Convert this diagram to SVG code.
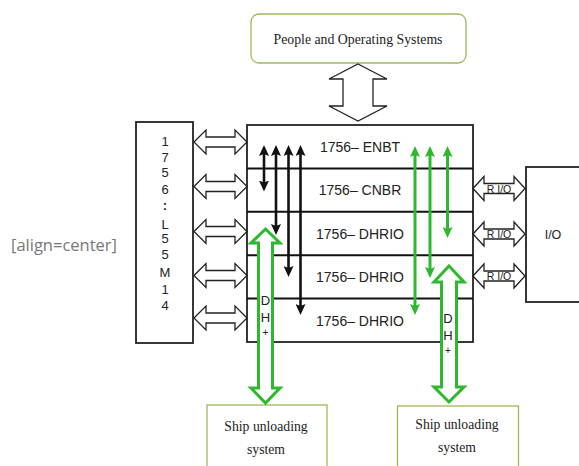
<svg xmlns="http://www.w3.org/2000/svg" width="579" height="466" viewBox="0 0 579 466">
<style>
.serif{font-family:"Liberation Serif","Times New Roman",serif;fill:#222;}
.sans{font-family:"Liberation Sans",Arial,sans-serif;fill:#222;}
.box{fill:#fff;stroke:#222;stroke-width:1.8;}
.gbox{fill:#fff;stroke:#9bbb59;stroke-width:1.3;}
.hollow{fill:#fff;stroke:#222;stroke-width:1.3;stroke-linejoin:miter;}
.ghollow{fill:#fff;stroke:#2db82d;stroke-width:3;}
.blk{stroke:#111;stroke-width:2.6;fill:none;}
.grn{stroke:#2db82d;stroke-width:3;fill:none;}
</style>
<defs>
<path id="harrow" d="M0,0 L12,-12 L12,-5 L41,-5 L41,-12 L53,0 L41,12 L41,5 L12,5 L12,12 Z"/>
<path id="rarrow" d="M0,0 L11,-12 L11,-5 L41,-5 L41,-12 L52,0 L41,12 L41,5 L11,5 L11,12 Z"/>
<marker id="bh" markerUnits="userSpaceOnUse" markerWidth="11" markerHeight="10" viewBox="0 0 11 10" refX="7" refY="5" orient="auto-start-reverse">
<path d="M0,0 L11,5 L0,10 L2,5 Z" fill="#111"/>
</marker>
<marker id="gh" markerUnits="userSpaceOnUse" markerWidth="11" markerHeight="10" viewBox="0 0 11 10" refX="7" refY="5" orient="auto-start-reverse">
<path d="M0,0 L11,5 L0,10 L2,5 Z" fill="#2db82d"/>
</marker>
</defs>

<text x="11" y="251" style="font-family:'Open Sans','Noto Sans',sans-serif;font-size:16.5px;fill:#777;">[align=center]</text>

<g id="people">
<rect class="gbox" x="251" y="14" width="215" height="49" rx="8"/>
<text class="serif" x="358" y="44" font-size="13.8" text-anchor="middle">People and Operating Systems</text>
</g>

<g id="controller">
<rect class="box" x="136" y="122" width="57" height="221"/>
<g class="sans" font-size="13" text-anchor="middle">
<text x="165" y="146">1</text>
<text x="165" y="162">7</text>
<text x="165" y="177">5</text>
<text x="165" y="194">6</text>
<text x="165" y="210" font-weight="bold">:</text>
<text x="165" y="229">L</text>
<text x="165" y="243">5</text>
<text x="165" y="259">5</text>
<text x="165" y="277">M</text>
<text x="165" y="294">1</text>
<text x="165" y="310">4</text>
</g>
</g>

<g id="chassis">
<rect class="box" x="247" y="125" width="226" height="217"/>
<g stroke="#111" stroke-width="2">
<line x1="247" y1="168.4" x2="473" y2="168.4"/>
<line x1="247" y1="211.8" x2="473" y2="211.8"/>
<line x1="247" y1="255.2" x2="473" y2="255.2"/>
<line x1="247" y1="298.6" x2="473" y2="298.6"/>
</g>
<g class="sans" font-size="14" text-anchor="middle">
<text x="360" y="151.5">1756– ENBT</text>
<text x="360" y="195">1756– CNBR</text>
<text x="360" y="238.5">1756– DHRIO</text>
<text x="360" y="282">1756– DHRIO</text>
<text x="360" y="325.5">1756– DHRIO</text>
</g>
</g>

<g id="io">
<rect class="box" x="526" y="167" width="70" height="135"/>
<text class="sans" x="553" y="239" font-size="12.5" text-anchor="middle">I/O</text>
</g>

<g id="ship1">
<rect class="gbox" x="207" y="405" width="120" height="80"/>
<text class="serif" x="266" y="431" font-size="13.7" text-anchor="middle">Ship unloading</text>
<text class="serif" x="266" y="454" font-size="13.7" text-anchor="middle">system</text>
</g>

<g id="ship2">
<rect class="gbox" x="397.5" y="406" width="121" height="80"/>
<text class="serif" x="457" y="429" font-size="13.7" text-anchor="middle">Ship unloading</text>
<text class="serif" x="457" y="452" font-size="13.7" text-anchor="middle">system</text>
</g>

<g id="connectors">
<path class="hollow" d="M358,64 L387,79 L373,79 L373,106 L387,106 L358,121 L329,106 L343,106 L343,79 L329,79 Z"/>
<use href="#harrow" class="hollow" x="194" y="142"/>
<use href="#harrow" class="hollow" x="194" y="186.5"/>
<use href="#harrow" class="hollow" x="194" y="231.5"/>
<use href="#harrow" class="hollow" x="194" y="275.5"/>
<use href="#harrow" class="hollow" x="194" y="318"/>
<use href="#rarrow" class="hollow" x="473" y="188.5"/>
<use href="#rarrow" class="hollow" x="473" y="234"/>
<use href="#rarrow" class="hollow" x="473" y="276"/>
<g class="sans" font-size="10.5" text-anchor="middle">
<text x="499" y="192.5">R I/O</text>
<text x="499" y="238">R I/O</text>
<text x="499" y="280">R I/O</text>
</g>
<line class="blk" x1="264" y1="149" x2="264" y2="187.5" marker-start="url(#bh)" marker-end="url(#bh)"/>
<line class="blk" x1="276" y1="149" x2="276" y2="231" marker-start="url(#bh)" marker-end="url(#bh)"/>
<line class="blk" x1="288.5" y1="149" x2="288.5" y2="273" marker-start="url(#bh)" marker-end="url(#bh)"/>
<line class="blk" x1="300.5" y1="149" x2="300.5" y2="311" marker-start="url(#bh)" marker-end="url(#bh)"/>
<line class="grn" x1="415" y1="150" x2="415" y2="311" marker-start="url(#gh)" marker-end="url(#gh)"/>
<line class="grn" x1="430" y1="150" x2="430" y2="274" marker-start="url(#gh)" marker-end="url(#gh)"/>
<line class="grn" x1="447.5" y1="150" x2="447.5" y2="234" marker-start="url(#gh)" marker-end="url(#gh)"/>
<path class="ghollow" d="M265.5,229 L280,243 L272.5,243 L272.5,388 L280,388 L265.5,403 L251,388 L258.5,388 L258.5,243 L251,243 Z"/>
<path class="ghollow" d="M449,266 L464,282 L456.5,282 L456.5,387 L464,387 L449,402 L434,387 L441.5,387 L441.5,282 L434,282 Z"/>
<g class="sans" font-size="13" text-anchor="middle">
<text x="265.5" y="305">D</text>
<text x="265.5" y="322">H</text>
<text x="265.5" y="336" font-size="10">+</text>
<text x="448" y="323">D</text>
<text x="448" y="340">H</text>
<text x="448" y="354" font-size="10">+</text>
</g>
</g>
</svg>
